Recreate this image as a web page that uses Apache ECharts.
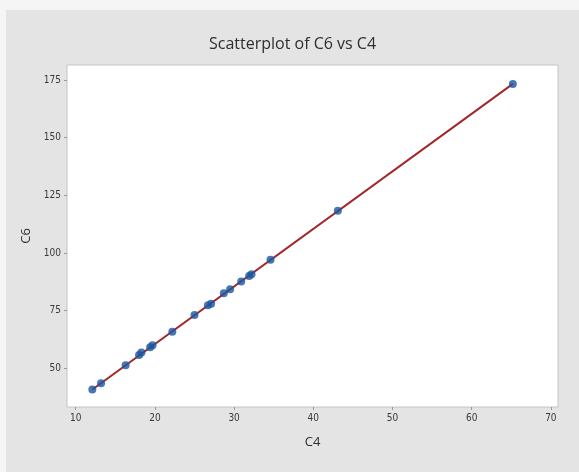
<!DOCTYPE html>
<html>
<head>
<meta charset="utf-8">
<script src="https://cdn.jsdelivr.net/npm/echarts@6/dist/echarts.min.js"></script>
<style>
  html, body { margin: 0; padding: 0; background: #f5f5f5; }
  #chart { position: absolute; left: 6px; top: 10px; width: 573px; height: 462px; }
</style>
</head>
<body>
<div id="chart"></div>
<script>
// valores
var c4 = [12.1, 13.2, 16.3, 18.0, 18.3, 19.4, 19.7, 22.2, 25.0, 26.7, 27.1, 28.7, 29.5, 30.9, 31.9, 32.2, 34.6, 43.1, 65.2];
var c6 = [40.8, 43.5, 51.3, 55.8, 56.8, 59.1, 60.0, 65.8, 73.1, 77.3, 78.0, 82.5, 84.3, 87.6, 90.0, 90.8, 97.0, 118.3, 173.3];
// recta ajustada (extremos)
var ajusteX = [12.1, 65.2];
var ajusteY = [40.8, 173.3];
// marcas de los ejes
var ticksX = [10, 20, 30, 40, 50, 60, 70];
var ticksY = [50, 75, 100, 125, 150, 175];

var puntos = c4.map(function (x, i) { return [x, c6[i]]; });
var linea = ajusteX.map(function (x, i) { return [x, ajusteY[i]]; });

var dom = document.getElementById("chart");
var myChart = echarts.init(dom);
var option = {
    backgroundColor: '#e4e4e4',
    animation: false,
    title: {
        text: 'Scatterplot of C6 vs C4',
        left: 'center',
        top: 21,
        textStyle: {
            color: '#2e2e2e',
            fontSize: 16,
            fontWeight: 'normal',
            fontFamily: 'Open Sans'
        }
    },
    grid: {
        left: 61,
        top: 55,
        right: 21,
        bottom: 65,
        show: true,
        backgroundColor: '#ffffff',
        borderColor: '#c4c4c4',
        borderWidth: 1
    },
    xAxis: {
        type: 'value',
        min: 8.9,
        max: 70.9,
        name: 'C4',
        nameLocation: 'middle',
        nameGap: 29,
        nameTextStyle: { color: '#2e2e2e', fontSize: 13, fontFamily: 'Open Sans' },
        axisLine: { show: false },
        splitLine: { show: false },
        axisTick: {
            show: true,
            length: 3,
            customValues: ticksX,
            lineStyle: { color: '#999' }
        },
        axisLabel: {
            customValues: ticksX,
            color: '#3a3a3a',
            fontSize: 10,
            margin: 6,
            fontFamily: 'Liberation Sans Narrow, DejaVu Sans Condensed'
        }
    },
    yAxis: {
        type: 'value',
        min: 33.2,
        max: 181.5,
        name: 'C6',
        nameLocation: 'middle',
        nameGap: 27,
        nameTextStyle: { color: '#2e2e2e', fontSize: 13, fontFamily: 'Open Sans' },
        axisLine: { show: false },
        splitLine: { show: false },
        axisTick: {
            show: true,
            length: 3,
            customValues: ticksY,
            lineStyle: { color: '#999' }
        },
        axisLabel: {
            customValues: ticksY,
            color: '#3a3a3a',
            fontSize: 10,
            margin: 6,
            fontFamily: 'Liberation Sans Narrow, DejaVu Sans Condensed'
        }
    },
    series: [{
            type: 'line',
            data: linea,
            symbol: 'none',
            lineStyle: { color: '#a3262a', width: 2 },
            z: 2
        },
        {
            type: 'scatter',
            data: puntos,
            symbolSize: 8,
            itemStyle: { color: '#1a56a0' },
            z: 3
        }
    ]
};
myChart.setOption(option, true);
</script>
</body>
</html>
